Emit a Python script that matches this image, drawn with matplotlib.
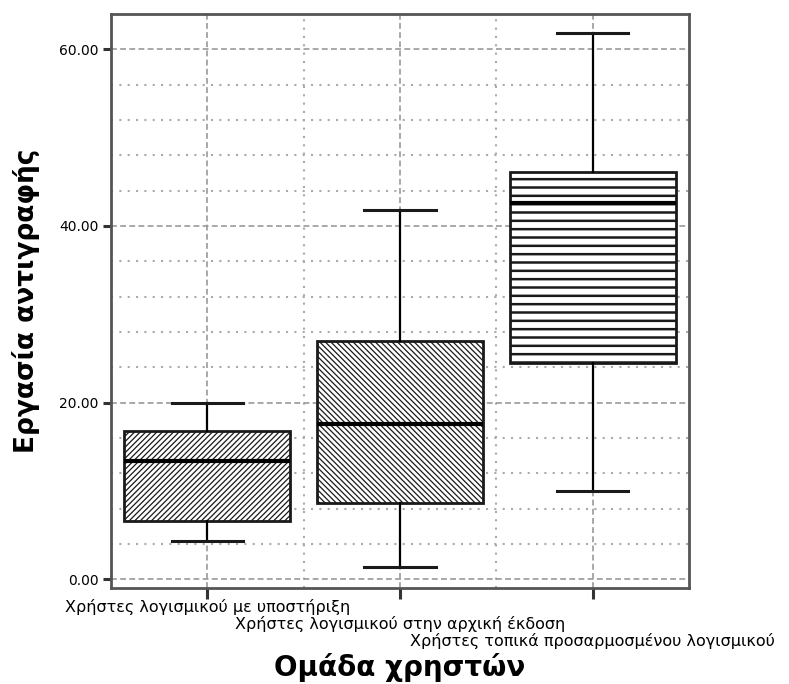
import matplotlib
matplotlib.use("Agg")
import matplotlib.pyplot as plt
from matplotlib.ticker import MultipleLocator, FixedLocator
from matplotlib.transforms import ScaledTranslation

categories = ["Χρήστες λογισμικού με υποστήριξη",
              "Χρήστες λογισμικού στην αρχική έκδοση",
              "Χρήστες τοπικά προσαρμοσμένου λογισμικού"]
whislo = [4.3, 1.4, 10.0]
q1 = [6.6, 8.6, 24.5]
med = [13.4, 17.6, 42.6]
q3 = [16.8, 27.0, 46.1]
whishi = [20.0, 41.8, 61.8]
yticks = [0, 20, 40, 60]
ytick_labels = ["0.00", "20.00", "40.00", "60.00"]
hatches = ["//////", "\\\\\\\\\\\\", "--"]
hatch_lw = [0.9, 0.9, 1.8]

plt.rcParams['hatch.linewidth'] = 1.0
fig = plt.figure(figsize=(7.89, 6.84), dpi=100)
ax = fig.add_axes([111/789, 1-588/684, (689-111)/789, (588-14)/684])

stats = []
for i in range(3):
    stats.append(dict(whislo=whislo[i], q1=q1[i], med=med[i], q3=q3[i],
                      whishi=whishi[i], fliers=[], label=categories[i]))

bp = ax.bxp(stats, positions=[0, 1, 2], widths=0.86, patch_artist=True,
            showfliers=False, capwidths=0.37,
            boxprops=dict(facecolor='white', edgecolor='#1a1a1a', linewidth=2),
            medianprops=dict(color='black', linewidth=3),
            whiskerprops=dict(color='black', linewidth=1.6),
            capprops=dict(color='#1a1a1a', linewidth=2.2))
for patch, h, hl in zip(bp['boxes'], hatches, hatch_lw):
    patch.set_hatch(h)
    if hasattr(patch, 'set_hatch_linewidth'):
        patch.set_hatch_linewidth(hl)
for b in bp['boxes']:
    b.set_zorder(3)
for l in bp['medians'] + bp['whiskers'] + bp['caps']:
    l.set_zorder(4)

ax.set_xlim(-0.5, 2.5)
ax.set_ylim(-1, 64)
ax.set_yticks(yticks)
ax.set_yticklabels(ytick_labels, fontsize=10)
ax.yaxis.set_minor_locator(MultipleLocator(4))
ax.set_xticks([0, 1, 2])
ax.set_xticklabels(categories, fontsize=11.5)
ax.xaxis.set_minor_locator(FixedLocator([0.5, 1.5]))

ax.grid(True, which='major', axis='both', color='#999999', linestyle=(0, (3.5, 2)), linewidth=1.2, zorder=0)
ax.grid(True, which='minor', axis='both', color='#aaaaaa', linestyle=(0, (1, 3)), linewidth=1.5, zorder=0)
ax.set_axisbelow(True)

ax.tick_params(axis='y', which='major', direction='out', length=6, width=2.2, color='#333333', pad=3)
ax.tick_params(axis='x', which='major', direction='out', length=8, width=2.2, color='#333333', pad=0)
ax.tick_params(which='minor', length=0)
for s in ax.spines.values():
    s.set_color('#555555')
    s.set_linewidth(2)

ax.set_ylabel("Εργασία αντιγραφής", fontsize=19, fontweight='bold', labelpad=14)
ax.set_xlabel("Ομάδα χρηστών", fontsize=20, fontweight='bold')
ax.xaxis.set_label_coords((400-111)/(689-111), -(653-588)/(588-14))

# stagger the category labels downward
for i, lab in enumerate(ax.get_xticklabels()):
    lab.set_transform(lab.get_transform() + ScaledTranslation(0, -i * 17 / 100, fig.dpi_scale_trans))

fig.savefig("out.png", dpi=100)
